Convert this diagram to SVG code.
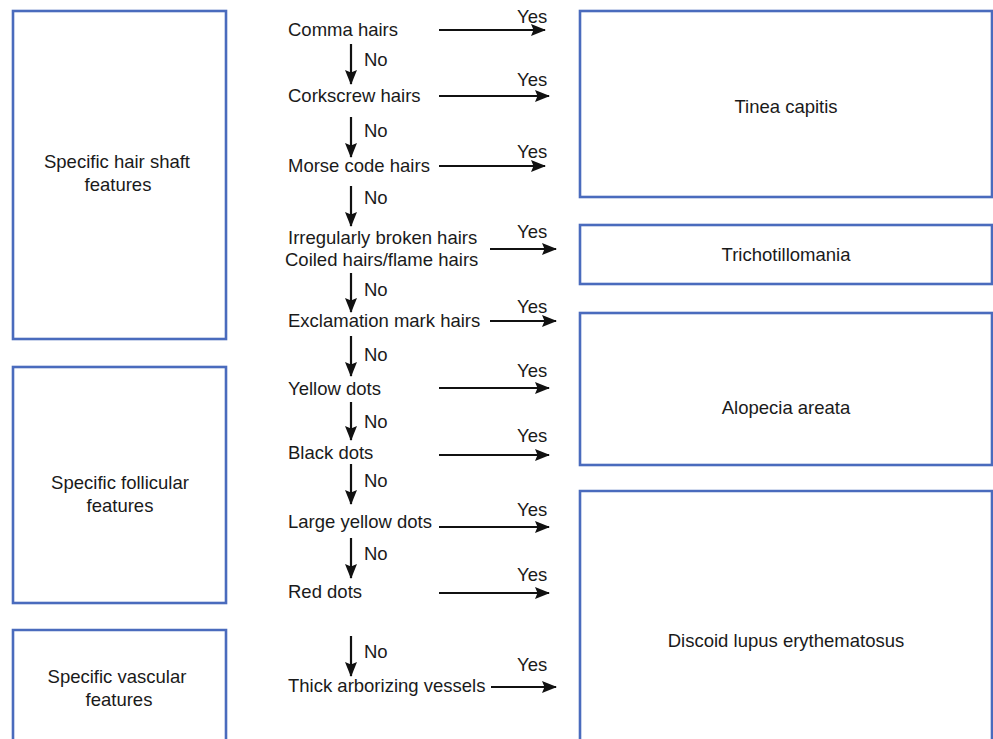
<svg xmlns="http://www.w3.org/2000/svg" width="993" height="739" viewBox="0 0 993 739">
  <style>
    .box { fill: #ffffff; stroke: #4a6bbd; stroke-width: 2.6; }
    .t { font-family: "Liberation Sans", Arial, Helvetica, sans-serif; font-size: 18.5px; fill: #1a1a1a; }
    .c { text-anchor: middle; }
    .edge { stroke: #111111; stroke-width: 2.2; fill: none; marker-end: url(#ah); }
  </style>
  <defs>
    <marker id="ah" markerWidth="15" markerHeight="12" refX="14" refY="6" orient="auto" markerUnits="userSpaceOnUse">
      <path d="M0,0 L15,6 L0,12 L2.5,6 Z" fill="#111111"/>
    </marker>
  </defs>
  <rect width="993" height="739" fill="#ffffff"/>

  <!-- left category boxes -->
  <g id="hair-shaft">
    <rect class="box" x="13" y="11" width="213" height="328"/>
    <text class="t c" x="117" y="168">Specific hair shaft</text>
    <text class="t c" x="118" y="191">features</text>
  </g>
  <g id="follicular">
    <rect class="box" x="13" y="367" width="213" height="236"/>
    <text class="t c" x="120" y="489">Specific follicular</text>
    <text class="t c" x="120" y="512">features</text>
  </g>
  <g id="vascular">
    <path class="box" d="M13,741 V630 H226 V741"/>
    <text class="t c" x="117" y="683">Specific vascular</text>
    <text class="t c" x="119" y="706">features</text>
  </g>

  <!-- diagnosis boxes -->
  <g id="tinea">
    <rect class="box" x="580" y="11" width="412" height="186"/>
    <text class="t c" x="786" y="113">Tinea capitis</text>
  </g>
  <g id="trich">
    <rect class="box" x="580" y="225" width="412" height="59"/>
    <text class="t c" x="786" y="261">Trichotillomania</text>
  </g>
  <g id="alopecia">
    <rect class="box" x="580" y="313" width="412" height="152"/>
    <text class="t c" x="786" y="414">Alopecia areata</text>
  </g>
  <g id="dle">
    <path class="box" d="M580,741 V491 H992 V741"/>
    <text class="t c" x="786" y="647">Discoid lupus erythematosus</text>
  </g>

  <!-- decision labels -->
  <g id="criteria">
    <text class="t" x="288" y="36">Comma hairs</text>
    <text class="t" x="288" y="102">Corkscrew hairs</text>
    <text class="t" x="288" y="172">Morse code hairs</text>
    <text class="t" x="288" y="244">Irregularly broken hairs</text>
    <text class="t" x="285" y="266">Coiled hairs/flame hairs</text>
    <text class="t" x="288" y="327">Exclamation mark hairs</text>
    <text class="t" x="288" y="395">Yellow dots</text>
    <text class="t" x="288" y="459">Black dots</text>
    <text class="t" x="288" y="528">Large yellow dots</text>
    <text class="t" x="288" y="598">Red dots</text>
    <text class="t" x="288" y="692">Thick arborizing vessels</text>
  </g>

  <!-- connectors -->
  <g id="connectors">
    <!-- Yes branches -->
    <line class="edge" x1="439" y1="30" x2="545" y2="30"/>
    <line class="edge" x1="439" y1="96" x2="549" y2="96"/>
    <line class="edge" x1="439" y1="166" x2="545" y2="166"/>
    <line class="edge" x1="490" y1="249" x2="556" y2="249"/>
    <line class="edge" x1="490" y1="321" x2="556" y2="321"/>
    <line class="edge" x1="439" y1="388" x2="549" y2="388"/>
    <line class="edge" x1="439" y1="455" x2="549" y2="455"/>
    <line class="edge" x1="439" y1="527" x2="549" y2="527"/>
    <line class="edge" x1="439" y1="593" x2="549" y2="593"/>
    <line class="edge" x1="491" y1="687" x2="556" y2="687"/>
    <!-- No branches -->
    <line class="edge" x1="351" y1="44" x2="351" y2="84"/>
    <line class="edge" x1="351" y1="117" x2="351" y2="157"/>
    <line class="edge" x1="351" y1="186" x2="351" y2="226"/>
    <line class="edge" x1="351" y1="273" x2="351" y2="312"/>
    <line class="edge" x1="351" y1="336" x2="351" y2="376"/>
    <line class="edge" x1="351" y1="402" x2="351" y2="440"/>
    <line class="edge" x1="351" y1="464" x2="351" y2="504"/>
    <line class="edge" x1="351" y1="538" x2="351" y2="578"/>
    <line class="edge" x1="351" y1="636" x2="351" y2="676"/>
  </g>

  <!-- connector labels -->
  <g id="edge-labels">
    <text class="t" x="517" y="23">Yes</text>
    <text class="t" x="517" y="86">Yes</text>
    <text class="t" x="517" y="158">Yes</text>
    <text class="t" x="517" y="238">Yes</text>
    <text class="t" x="517" y="313">Yes</text>
    <text class="t" x="517" y="377">Yes</text>
    <text class="t" x="517" y="442">Yes</text>
    <text class="t" x="517" y="516">Yes</text>
    <text class="t" x="517" y="581">Yes</text>
    <text class="t" x="517" y="671">Yes</text>
    <text class="t" x="364" y="66">No</text>
    <text class="t" x="364" y="137">No</text>
    <text class="t" x="364" y="204">No</text>
    <text class="t" x="364" y="296">No</text>
    <text class="t" x="364" y="361">No</text>
    <text class="t" x="364" y="428">No</text>
    <text class="t" x="364" y="487">No</text>
    <text class="t" x="364" y="560">No</text>
    <text class="t" x="364" y="658">No</text>
  </g>
</svg>
